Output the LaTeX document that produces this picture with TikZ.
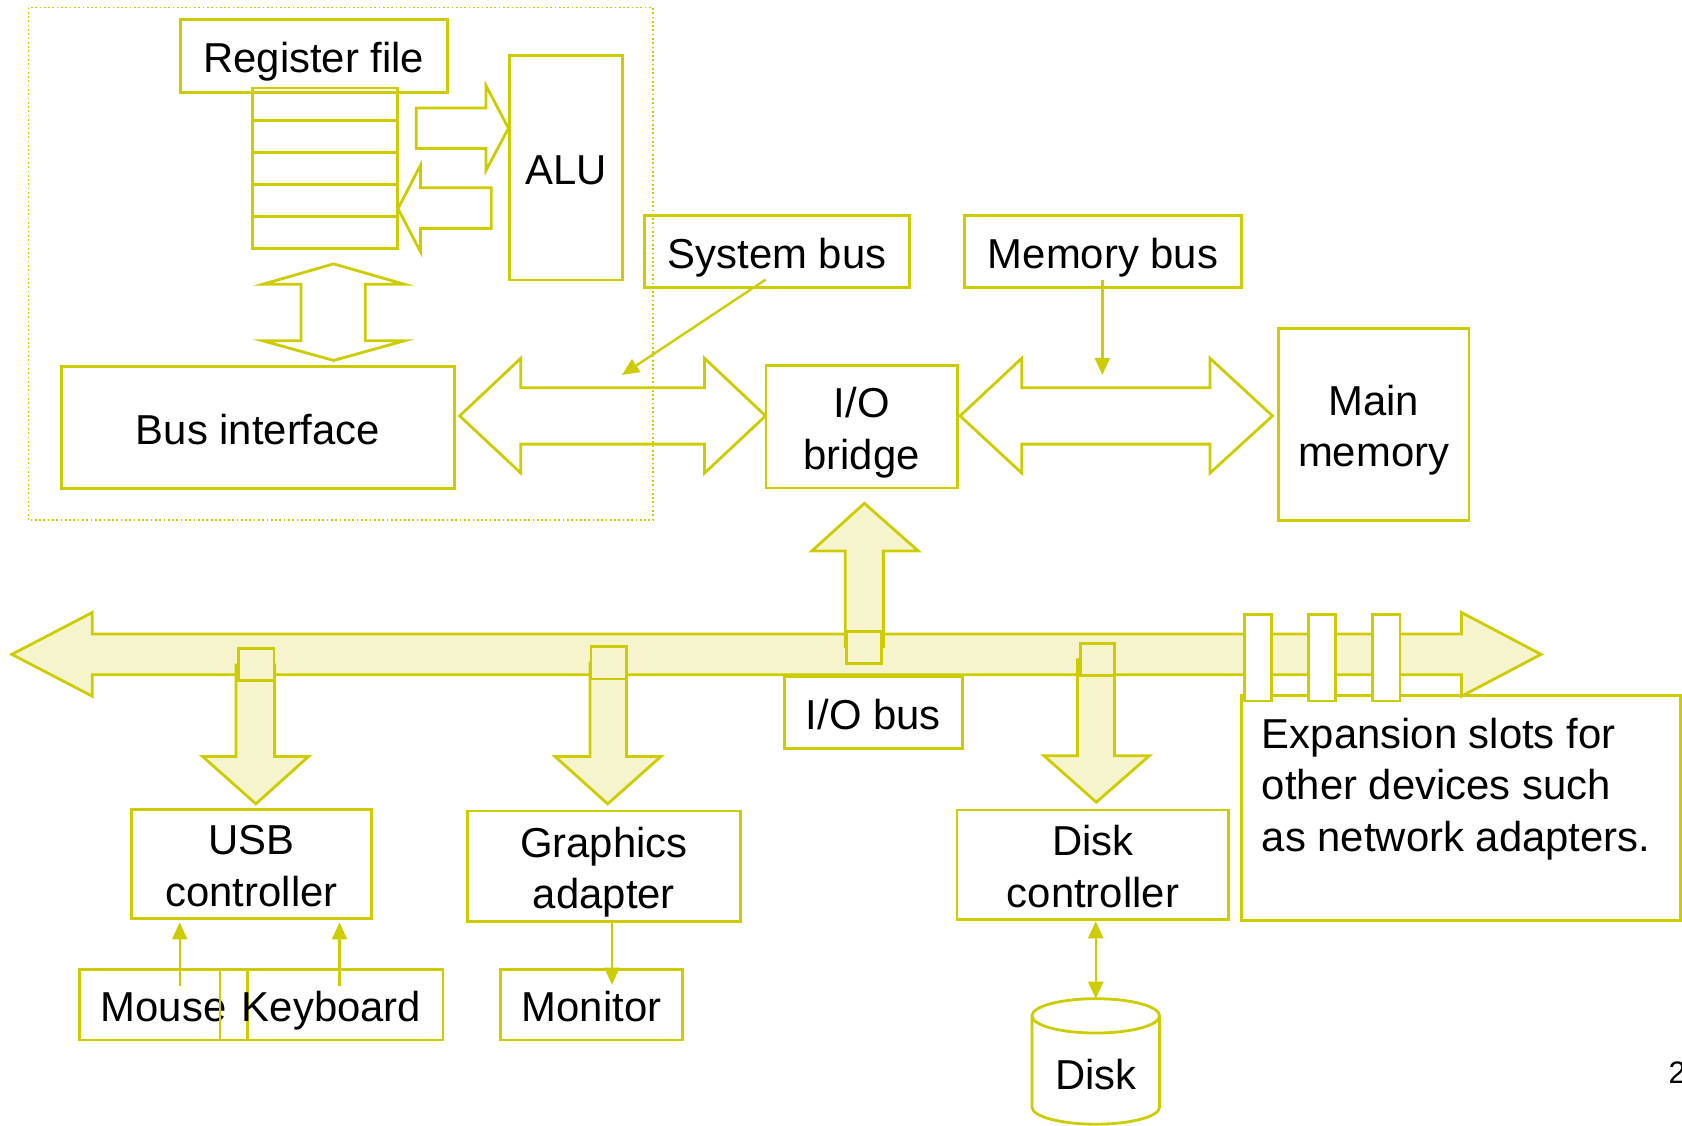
\documentclass[tikz,border=0pt]{standalone}
\usepackage{fontspec}
\setmainfont{Liberation Sans}
\usetikzlibrary{arrows.meta,calc}
\definecolor{ink}{RGB}{204,204,0}
\definecolor{cream}{RGB}{246,244,204}
% fixed line box, so every label sits at the same height in its box
\newcommand\ls{\rule[-4.25pt]{0pt}{24pt}}
% \rectnode[style]{name}{x1}{y1}{x2}{y2}{text}: a node filling the given corners
\newcommand\rectnode[7][box]{%
  \node[#1, minimum width={(#5-#3)*0.5pt}, minimum height={(#6-#4)*0.5pt}]
    (#2) at ({(#3+#5)/2},{(#4+#6)/2}) {#7};}
\begin{document}
\begin{tikzpicture}[x=0.5pt,y=-0.5pt,
  every node/.style={font=\fontsize{19.5}{24}\selectfont, text=black},
  box/.style={draw=ink, line width=1.3pt, inner sep=0pt, align=center},
  reg/.style={draw=ink, line width=1.3pt, inner sep=0pt},
  conn/.style={draw=ink, fill=cream, line width=1.3pt, inner sep=0pt},
  slot/.style={draw=ink, fill=white, line width=1.3pt, inner sep=0pt},
  ptr/.style={draw=ink, line width=1.1pt, -{Triangle[length=8pt,width=7pt]}},
  dptr/.style={draw=ink, line width=1.1pt, {Triangle[length=8pt,width=7pt]}-{Triangle[length=8pt,width=7pt]}},
  hollow/.style={draw=ink, line width=1.3pt, line join=miter},
  fat/.style={draw=ink, fill=cream, line width=1.3pt, line join=miter},
  cpu/.style={draw=ink, line width=0.8pt, dash pattern=on 0.8pt off 1.2pt},
  drum/.style={draw=ink, fill=white, line width=1.3pt},
]
\useasboundingbox (0,0) rectangle (1568,1049);

% CPU chip outline
\draw[cpu] (26.5,7) rectangle (608.5,485);

% register file, ALU, bus interface
\rectnode{regfile}{168}{18}{417}{86}{Register file\ls}
\foreach \i/\t/\b in {1/82/112,2/112/142,3/142/172,4/172/202,5/202/231.5}
  {\rectnode[reg]{reg\i}{235.5}{\t}{370.5}{\b}{}}
\rectnode{alu}{475}{52}{580.5}{261}{ALU\ls}
\rectnode{busif}{57}{342}{424}{455.5}{Bus interface\ls}

% registers -> ALU
\draw[hollow] (388,100.6) -- (453,100.6) -- (453,79.7) -- (474,119.6) -- (453,159)
  -- (453,138.3) -- (388,138.3) -- cycle;
% ALU -> registers
\draw[hollow] (371,194.5) -- (392,154) -- (392,175) -- (458,175) -- (458,212.9)
  -- (392,212.9) -- (392,234.7) -- cycle;
% registers <-> bus interface
\draw[hollow] (311,246) -- (377,265) -- (340.5,265) -- (340.5,317.7) -- (377,317.7)
  -- (311,336) -- (245,317.7) -- (280.5,317.7) -- (280.5,265) -- (245,265) -- cycle;

% bridge, memory and bus labels
\rectnode{sysbus}{601}{201}{848}{268}{System bus\ls}
\rectnode{membus}{899}{201}{1157.5}{268}{Memory bus\ls}
\rectnode{bridge}{714}{341}{892.5}{455}{I/O\ls\\bridge\ls}
\rectnode{mainmem}{1191.5}{306}{1369.5}{485}{Main\ls\\memory\ls}

% system bus
\draw[hollow] (428.5,387.7) -- (485.5,334) -- (485.5,361.4) -- (656.8,361.4) -- (656.8,334)
  -- (713.7,387.7) -- (656.8,441) -- (656.8,414) -- (485.5,414) -- (485.5,441) -- cycle;
% memory bus
\draw[hollow] (895,387.7) -- (952.5,334) -- (952.5,361.4) -- (1128,361.4) -- (1128,334)
  -- (1186.2,387.7) -- (1128,441) -- (1128,414) -- (952.5,414) -- (952.5,441) -- cycle;

% label pointers
\coordinate (sysbusfrom) at (713.7,260.7);
\coordinate (sysbustip) at (579.8,349.6);
\draw[ptr] (sysbusfrom) -- (sysbustip);
\coordinate (membusfrom) at (1027.6,260.7);
\coordinate (membustip) at (1027.6,349.6);
\draw[ptr] (membusfrom) -- (membustip);

% I/O bus
\draw[fat] (11,610) -- (86,571) -- (86,591) -- (1362.5,591) -- (1362.5,571) -- (1436.6,610)
  -- (1362.5,649) -- (1362.5,629) -- (86,629) -- (86,649) -- cycle;

% expansion slots
\rectnode{expbox}{1157}{648}{1566.5}{858}{}
\node[anchor=north west, align=left, inner sep=0pt] (exptext) at (1176,669)
  {Expansion slots for\\other devices such\\as network adapters.};
\foreach \i/\l/\r in {1/1160/1185.5,2/1219.5/1245,3/1279.3/1305}
  {\rectnode[slot]{slot\i}{\l}{573}{\r}{653.5}{}}

% taps off the I/O bus
\draw[fat] (220,620) -- (220,705.3) -- (189,705.3) -- (238.5,749.4) -- (287.5,705.3)
  -- (256,705.3) -- (256,620) -- cycle;
\rectnode[conn]{usbport}{222.5}{604.5}{255.5}{634.5}{}
\draw[fat] (550,618) -- (550,705.3) -- (517.5,705.3) -- (566.5,749.4) -- (616,705.3)
  -- (584,705.3) -- (584,618) -- cycle;
\rectnode[conn]{gfxport}{551}{603}{584}{633}{}
\draw[fat] (1004.5,615) -- (1004.5,704.6) -- (973.3,704.6) -- (1022,747.8) -- (1071.4,704.6)
  -- (1039,704.6) -- (1039,615) -- cycle;
\rectnode[conn]{diskport}{1007}{600}{1039}{630}{}
\draw[fat] (788,603) -- (788,513.7) -- (756.7,513.7) -- (805.8,469.2) -- (856.1,513.7)
  -- (823.5,513.7) -- (823.5,603) -- cycle;
\rectnode[conn]{bridgeport}{789.3}{589}{822}{618.5}{}

% I/O devices
\rectnode{iobus}{731}{631}{897}{697.5}{I/O bus\ls}
\rectnode{usb}{122.5}{754.5}{346.5}{856.5}{USB\ls\\controller\ls}
\rectnode{gfx}{436}{756}{690}{859}{Graphics\ls\\adapter\ls}
\rectnode{diskctrl}{892.2}{755}{1145.5}{857.5}{Disk\ls\\controller\ls}
\rectnode{mouse}{74}{904}{231}{969.5}{Mouse\ls}
\rectnode{keyboard}{205}{904}{413}{969.5}{Keyboard\ls}
\rectnode{monitor}{466.5}{904}{636.5}{969.5}{Monitor\ls}

\coordinate (mouseport) at (167.5,919);
\draw[ptr, shorten >=1pt] (mouseport) -- (mouseport |- usb.south);
\coordinate (kbport) at (316.5,919);
\draw[ptr, shorten >=1pt] (kbport) -- (kbport |- usb.south);
\coordinate (monport) at (570.5,918);
\draw[ptr] (monport |- gfx.south) -- (monport);

% disk drum
\coordinate (disktop) at (1021.5,931);
\draw[drum] (962,947) -- (962,1032) arc[start angle=180, end angle=0, x radius=59.5, y radius=16] -- (1081,947);
\draw[drum] (1021.5,947) ellipse[x radius=59.5, y radius=16];
\node (disk) at (1021.5,1002) {Disk};
\draw[dptr] (diskctrl.south -| disktop) -- (disktop);

% page number
\node[anchor=west, inner sep=0pt, font=\fontsize{14.5}{17}\selectfont] (pagenum) at (1555,1000) {2};
\end{tikzpicture}
\end{document}
